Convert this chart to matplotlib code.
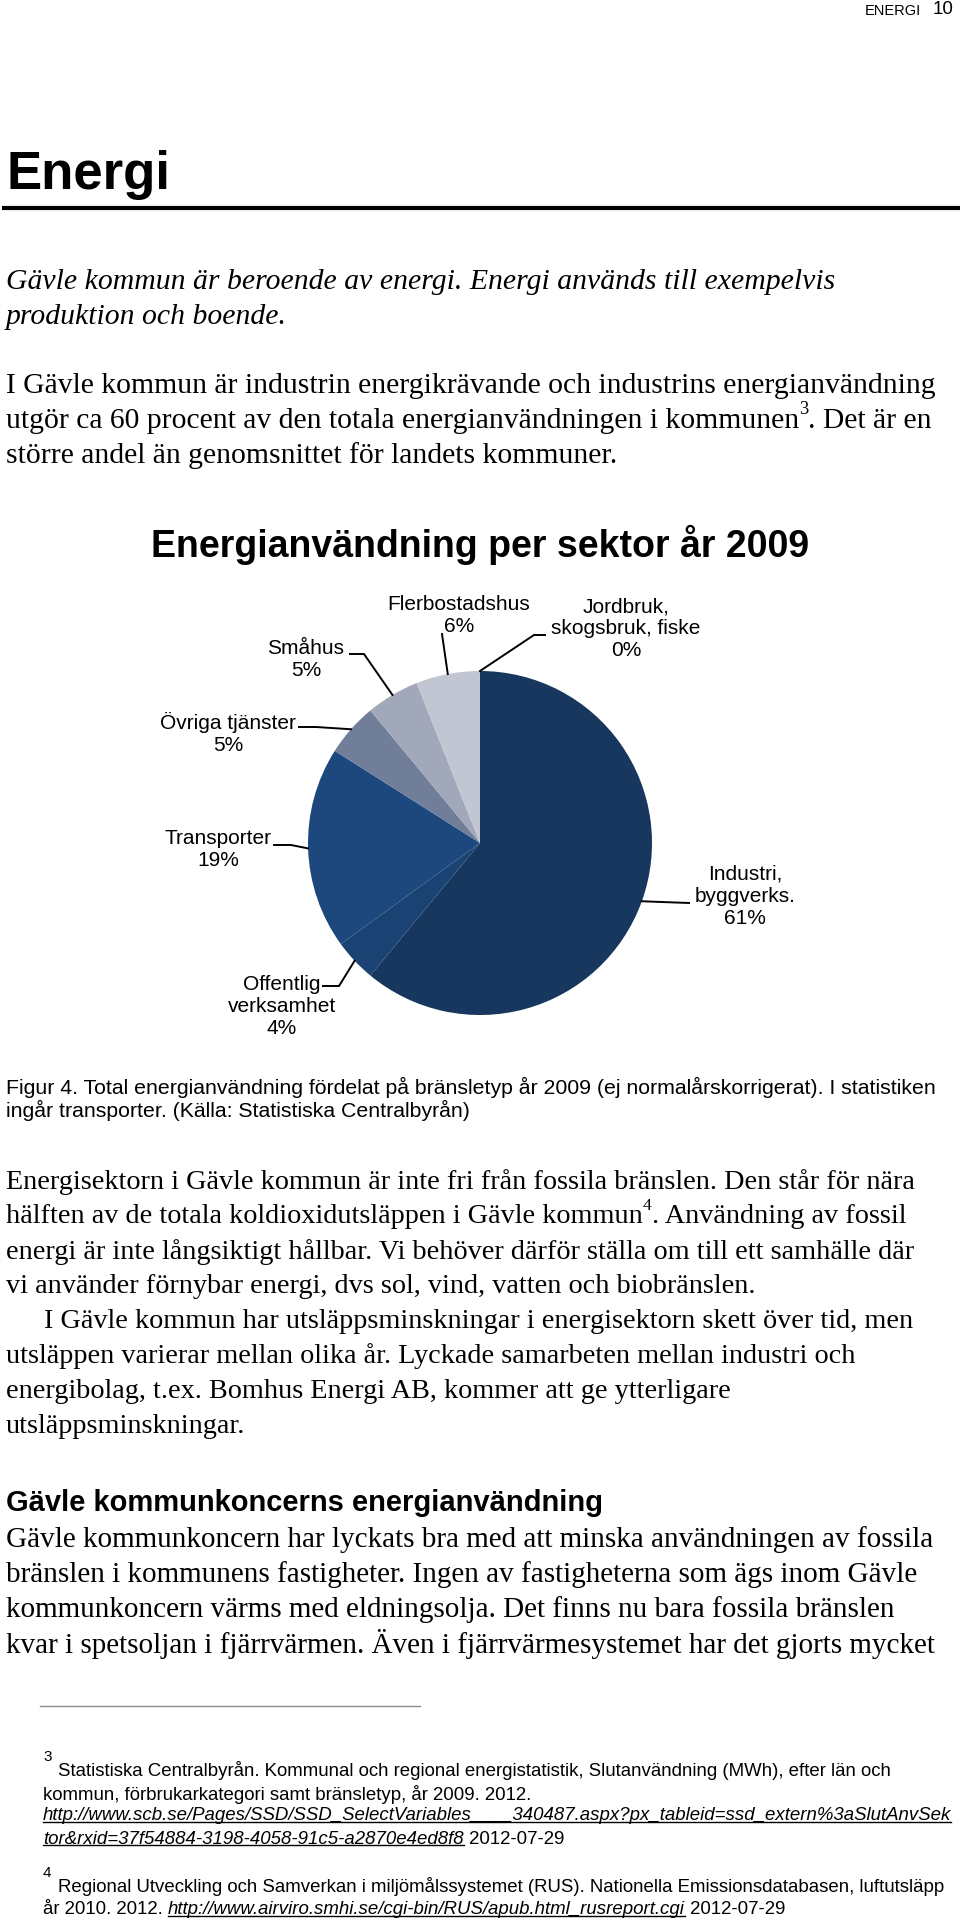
import matplotlib
matplotlib.use('Agg')
import matplotlib.pyplot as plt
import numpy as np

W, H = 960, 1920
SANS = 'Liberation Sans'
SERIF = 'Liberation Serif'

# pie data
sectors = ['Industri,\nbyggverks.', 'Offentlig\nverksamhet', 'Transporter',
           'Övriga tjänster', 'Småhus', 'Flerbostadshus', 'Jordbruk,\nskogsbruk, fiske']
shares = [61, 4, 19, 5, 5, 6, 0]
colors = ['#17375E', '#1A4272', '#1C487D', '#707E9A', '#A1A8B9', '#C1C6D2', '#C1C6D2']

# label centres and leader elbows (page px, y down)
label_pos = [(745, 896), (282, 1006), (218, 850), (228, 733), (306, 659), (459, 616), (626, 629)]
leader_pts = [[(689, 903)], [(339, 986), (323, 986)], [(291, 845), (274, 845)],
              [(316, 727), (299, 727)], [(364, 654), (350, 654)], [(442, 634)],
              [(534, 635), (545, 635)]]

intro = ['Gävle kommun är beroende av energi. Energi används till exempelvis',
         'produktion och boende.']
para1 = [[('I Gävle kommun är industrin energikrävande och industrins energianvändning', 0)],
         [('utgör ca 60 procent av den totala energianvändningen i kommunen', 0), ('3', 1), ('. Det är en', 0)],
         [('större andel än genomsnittet för landets kommuner.', 0)]]
caption = ['Figur 4. Total energianvändning fördelat på bränsletyp år 2009 (ej normalårskorrigerat). I statistiken',
           'ingår transporter. (Källa: Statistiska Centralbyrån)']
para2 = [[('Energisektorn i Gävle kommun är inte fri från fossila bränslen. Den står för nära', 0)],
         [('hälften av de totala koldioxidutsläppen i Gävle kommun', 0), ('4', 1), ('. Användning av fossil', 0)],
         [('energi är inte långsiktigt hållbar. Vi behöver därför ställa om till ett samhälle där', 0)],
         [('vi använder förnybar energi, dvs sol, vind, vatten och biobränslen.', 0)],
         [('I Gävle kommun har utsläppsminskningar i energisektorn skett över tid, men', 0)],
         [('utsläppen varierar mellan olika år. Lyckade samarbeten mellan industri och', 0)],
         [('energibolag, t.ex. Bomhus Energi AB, kommer att ge ytterligare', 0)],
         [('utsläppsminskningar.', 0)]]
para3 = ['Gävle kommunkoncern har lyckats bra med att minska användningen av fossila',
         'bränslen i kommunens fastigheter. Ingen av fastigheterna som ägs inom Gävle',
         'kommunkoncern värms med eldningsolja. Det finns nu bara fossila bränslen',
         'kvar i spetsoljan i fjärrvärmen. Även i fjärrvärmesystemet har det gjorts mycket']

fig = plt.figure(figsize=(9.6, 19.2), dpi=100)
ax = fig.add_axes([0, 0, 1, 1])
r = fig.canvas.get_renderer()


def Y(y):
    return H - y


def runs(x, y, parts, size, family=SERIF, style='normal', weight='normal'):
    # parts: (text, kind) kind 0 = normal, 1 = superscript, 2 = underlined italic
    for txt, kind in parts:
        fs, dy, st = size, 0, style
        if kind == 1:
            fs, dy = size * 0.62, -11
        if kind == 2:
            st = 'italic'
        t = ax.text(x, Y(y + dy), txt, fontsize=fs, family=family, style=st,
                    weight=weight, va='center', ha='left', color='black')
        bb = t.get_window_extent(renderer=r)
        if kind == 2:
            ax.plot([bb.x0, bb.x1], [bb.y0 + 3, bb.y0 + 3], color='black', lw=1)
        x += bb.width


# pie
wedges, _ = ax.pie(shares, colors=colors, startangle=90, counterclock=False,
                   center=(480, Y(843)), radius=172, frame=True,
                   wedgeprops=dict(linewidth=0))
ax.set_xlim(0, W)
ax.set_ylim(0, H)
ax.axis('off')

for w, name, val, (lx, ly), pts in zip(wedges, sectors, shares, label_pos, leader_pts):
    mid = np.deg2rad((w.theta1 + w.theta2) / 2)
    sx = w.center[0] + w.r * np.cos(mid)
    sy = w.center[1] + w.r * np.sin(mid)
    xs = [sx] + [p[0] for p in pts]
    ys = [sy] + [Y(p[1]) for p in pts]
    ax.plot(xs, ys, color='black', lw=1.4)
    ax.text(lx, Y(ly), f'{name}\n{val}%', ha='center', va='center', fontsize=15,
            family=SANS, linespacing=1.2)

ax.text(480, Y(545), 'Energianvändning per sektor år 2009', ha='center', va='center',
        fontsize=27, family=SANS, weight='bold')

# page header and headings
ax.text(921, Y(11), 'ENERGI', ha='right', va='center', fontsize=10.5, family=SANS)
ax.text(953, Y(10), '10', ha='right', va='center', fontsize=13.5, family=SANS)
ax.text(6, Y(175), 'Energi', ha='left', va='center', fontsize=38, family=SANS, weight='bold')
ax.plot([4, W], [Y(208), Y(208)], color='black', lw=3)

for i, line in enumerate(intro):
    ax.text(6, Y(282 + i * 34.5), line, ha='left', va='center', fontsize=21.4,
            family=SERIF, style='italic')

for i, parts in enumerate(para1):
    runs(6, 386 + i * 35, parts, 21.3)

for i, line in enumerate(caption):
    ax.text(6, Y(1087 + i * 23), line, ha='left', va='center', fontsize=15.3, family=SANS)

for i, parts in enumerate(para2):
    runs(44 if i == 4 else 6, 1182 + i * 34.9, parts, 20.3)

ax.text(6, Y(1503), 'Gävle kommunkoncerns energianvändning', ha='left', va='center',
        fontsize=21, family=SANS, weight='bold')
for i, line in enumerate(para3):
    ax.text(6, Y(1540 + i * 34.7), line, ha='left', va='center', fontsize=21.0, family=SERIF)

# footnotes
ax.plot([40, 420], [Y(1706), Y(1706)], color='#8a8a8a', lw=1)
FN = 13.4
ax.text(43, Y(1757), '3', ha='left', va='center', fontsize=11, family=SANS)
runs(58, 1771, [('Statistiska Centralbyrån. Kommunal och regional energistatistik, Slutanvändning (MWh), efter län och', 0)], FN, SANS)
runs(43, 1794, [('kommun, förbrukarkategori samt bränsletyp, år 2009. 2012.', 0)], FN, SANS)
runs(43, 1816, [('http://www.scb.se/Pages/SSD/SSD_SelectVariables____340487.aspx?px_tableid=ssd_extern%3aSlutAnvSek', 2)], FN, SANS)
runs(43, 1839, [('tor&rxid=37f54884-3198-4058-91c5-a2870e4ed8f8', 2), (' 2012-07-29', 0)], FN, SANS)
ax.text(43, Y(1873), '4', ha='left', va='center', fontsize=11, family=SANS)
runs(58, 1887, [('Regional Utveckling och Samverkan i miljömålssystemet (RUS). Nationella Emissionsdatabasen, luftutsläpp', 0)], FN, SANS)
runs(43, 1910, [('år 2010. 2012. ', 0), ('http://www.airviro.smhi.se/cgi-bin/RUS/apub.html_rusreport.cgi', 2), (' 2012-07-29', 0)], FN, SANS)

fig.savefig('out.png', dpi=100, facecolor='white')
print('Saved out.png')
